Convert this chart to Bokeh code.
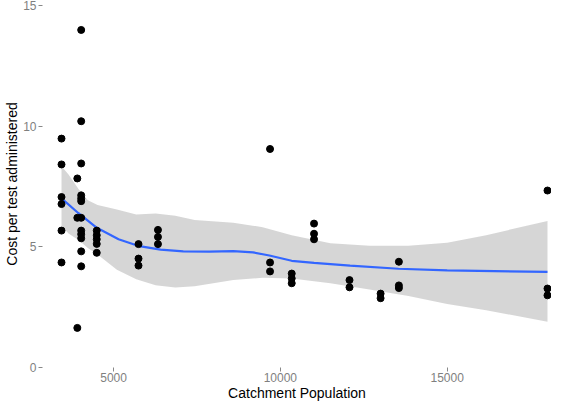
from bokeh.plotting import figure
from bokeh.models import Range1d, FixedTicker
from bokeh.embed import file_html
from bokeh.resources import INLINE

# Observed points: catchment population vs cost per test administered
pop = [3440, 3440, 3440, 3440, 3440, 3440,
       3914, 3914, 3914,
       4030, 4030, 4030, 4030, 4030, 4030, 4030, 4030, 4030, 4030, 4030, 4030,
       4496, 4496, 4496, 4496, 4496,
       5748, 5748, 5748,
       6331, 6331, 6331,
       9691, 9691, 9691,
       10341, 10341, 10341,
       11010, 11010, 11010,
       12073, 12073,
       13005, 13005,
       13553, 13553, 13553,
       18008, 18008, 18008]
cost = [9.48, 8.41, 7.06, 6.77, 5.67, 4.35,
        7.83, 6.20, 1.64,
        13.98, 10.20, 8.45, 7.13, 7.00, 6.89, 6.20, 5.67, 5.52, 5.35, 4.81, 4.19,
        5.67, 5.48, 5.31, 5.12, 4.75,
        5.11, 4.51, 4.22,
        5.70, 5.41, 5.11,
        9.05, 4.35, 3.98,
        3.89, 3.69, 3.49,
        5.96, 5.54, 5.31,
        3.62, 3.32,
        3.06, 2.87,
        4.38, 3.40, 3.29,
        7.33, 3.27, 2.99]

# Loess smooth line
smooth_x = [3440, 3500, 3940, 4470, 5150, 5730, 6410, 7090, 7870, 8590,
            9180, 9670, 10340, 11010, 12090, 13540, 15000, 18008]
smooth_y = [7.06, 6.93, 6.40, 5.81, 5.31, 5.04, 4.88, 4.81, 4.80, 4.82,
            4.77, 4.64, 4.42, 4.33, 4.22, 4.09, 4.02, 3.96]

# Confidence band
band_x = [3440, 3650, 3950, 4230, 4520, 5100, 5680, 6260, 6850, 7430,
          8590, 9470, 10340, 11500, 12670, 13840, 15000, 16170, 18008]
band_upper = [8.33, 7.99, 7.39, 6.93, 6.73, 6.54, 6.34, 6.38, 6.28, 6.11,
              6.00, 5.81, 5.48, 5.15, 5.04, 5.04, 5.17, 5.48, 6.07]
band_lower = [5.87, 5.55, 5.28, 4.95, 4.68, 4.05, 3.65, 3.41, 3.31, 3.37,
              3.62, 3.72, 3.69, 3.49, 3.23, 2.96, 2.63, 2.37, 1.90]

x_ticks = [5000, 10000, 15000]
y_ticks = [0, 5, 10, 15]

p = figure(width=551, height=403, output_backend="svg", toolbar_location=None,
           x_range=Range1d(2870, 18128), y_range=Range1d(0, 15.2),
           min_border_left=42, min_border_right=0, min_border_top=0,
           min_border_bottom=0)
p.outline_line_color = None
p.background_fill_color = "white"
p.border_fill_color = "white"
p.xgrid.visible = False
p.ygrid.visible = False

p.varea(x=band_x, y1=band_lower, y2=band_upper, fill_color="#999999", fill_alpha=0.4)
p.line(smooth_x, smooth_y, line_color="#3366FF", line_width=2.2)
p.scatter(pop, cost, size=7, fill_color="black", line_color="black")

for ax in (p.xaxis, p.yaxis):
    ax.axis_line_color = None
    ax.minor_tick_line_color = None
    ax.major_tick_in = 0
    ax.major_tick_out = 4
    ax.major_tick_line_color = "#888888"
    ax.major_label_text_color = "#7f7f7f"
    ax.major_label_text_font = "Liberation Sans"
    ax.major_label_text_font_size = "12px"
    ax.axis_label_text_font = "Liberation Sans"
    ax.axis_label_text_font_size = "14px"
    ax.axis_label_text_font_style = "normal"
    ax.axis_label_text_color = "black"

p.xaxis.ticker = FixedTicker(ticks=x_ticks)
p.yaxis.ticker = FixedTicker(ticks=y_ticks)
p.xaxis.axis_label = "Catchment Population"
p.yaxis.axis_label = "Cost per test administered"
p.xaxis.major_label_standoff = 1
p.xaxis.axis_label_standoff = 0
p.yaxis.major_label_standoff = 2
p.yaxis.axis_label_standoff = 0

open("out.html", "w").write(file_html(p, INLINE))
